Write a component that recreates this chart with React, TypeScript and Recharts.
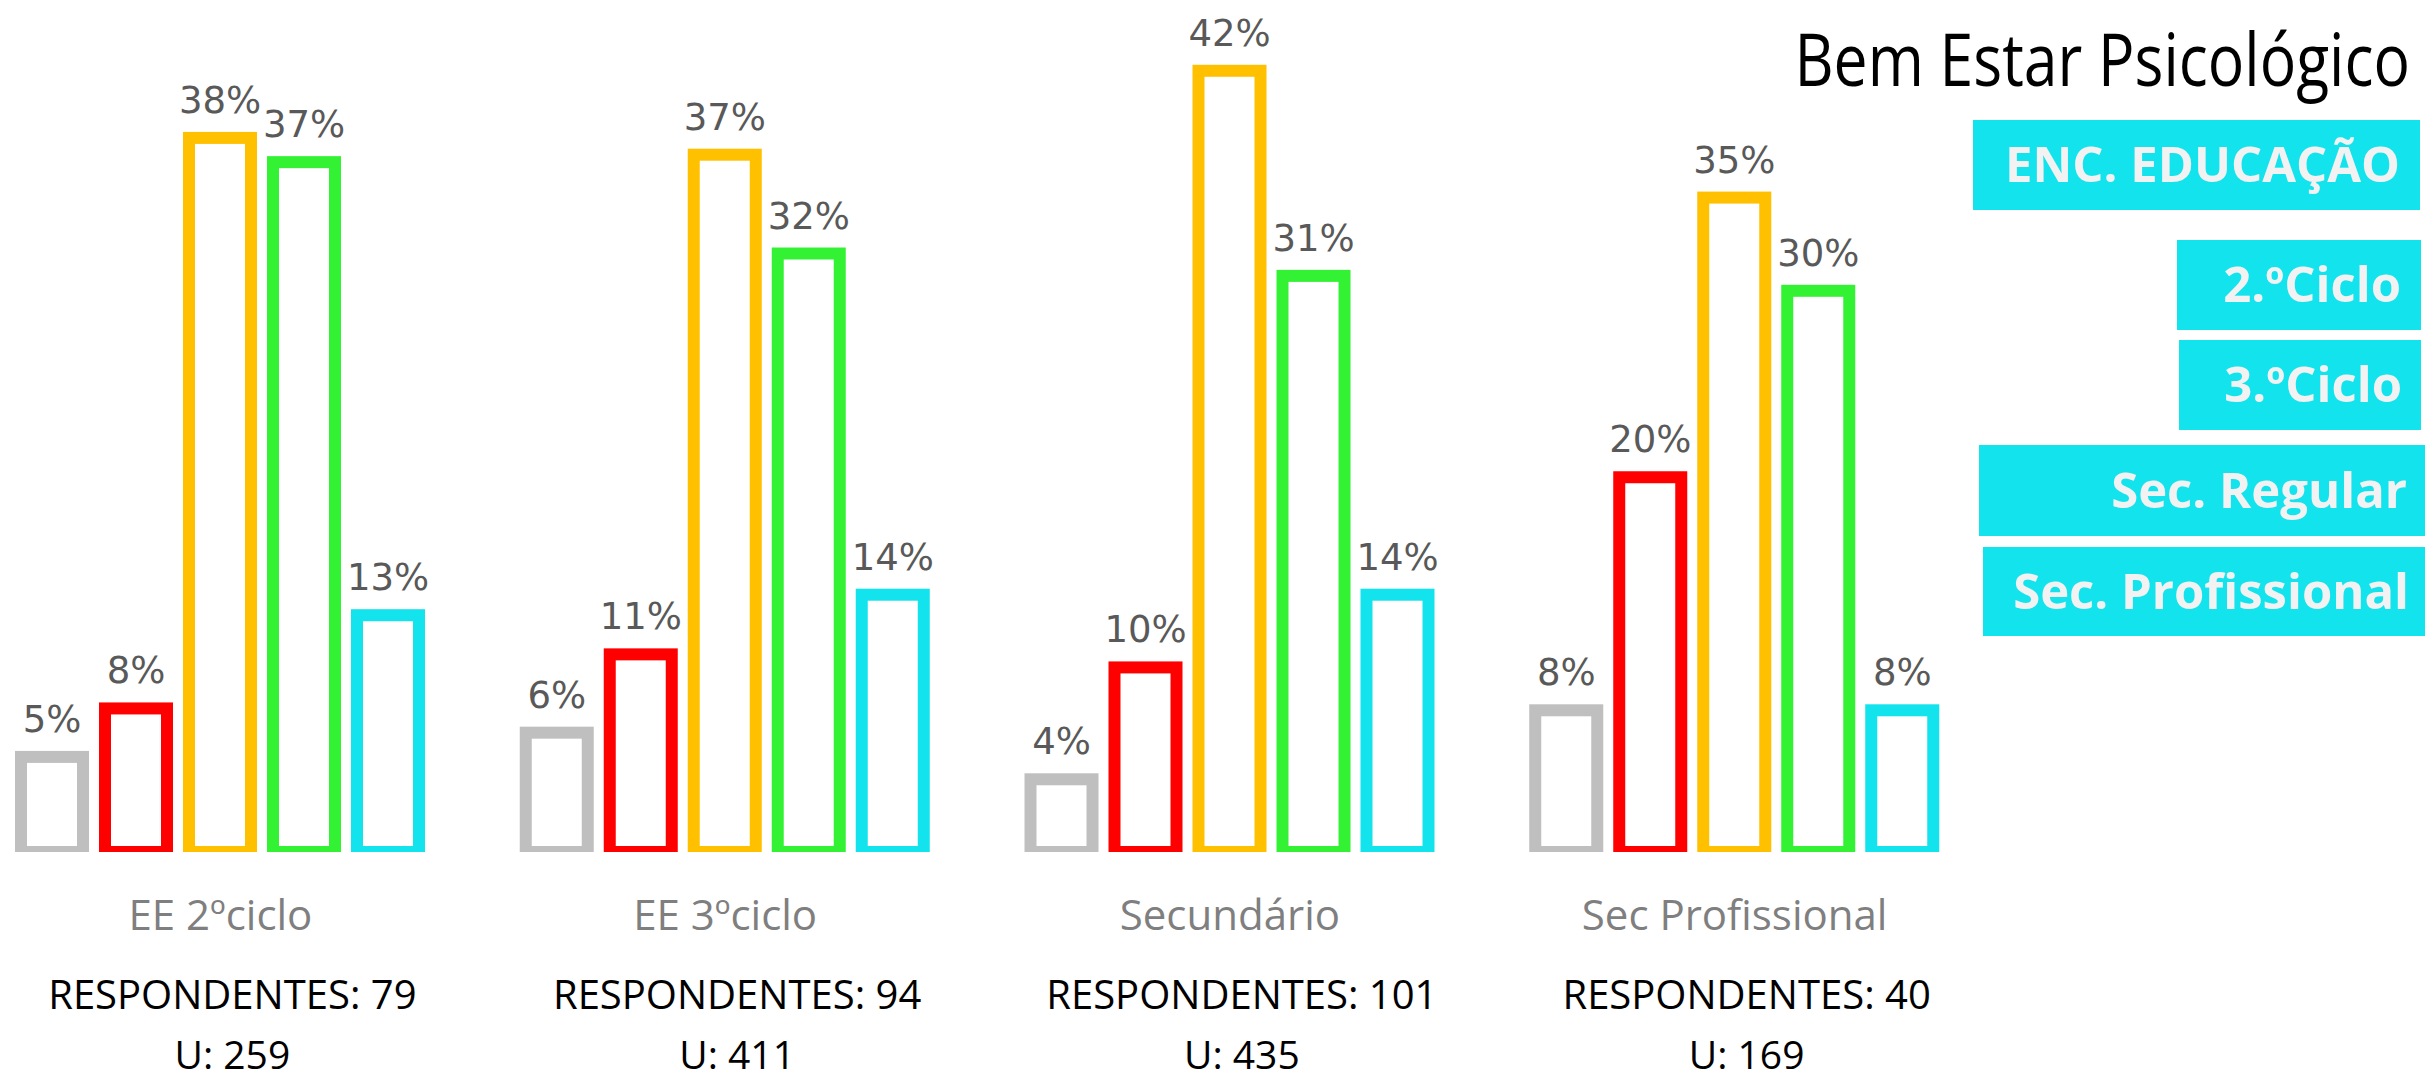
import React from 'react'
import { BarChart, Bar, XAxis, YAxis, LabelList } from 'recharts'

const categories = ['EE 2ºciclo', 'EE 3ºciclo', 'Secundário', 'Sec Profissional']
const respondents = [79, 94, 101, 40]
const universe = [259, 411, 435, 169]

// one array per answer level (percentages)
const greyValues = [5.1, 6.4, 3.9, 7.6]
const redValues = [7.7, 10.6, 9.9, 20.1]
const yellowValues = [38.3, 37.4, 41.9, 35.1]
const greenValues = [37.0, 32.1, 30.9, 30.1]
const cyanValues = [12.7, 13.8, 13.8, 7.6]

const title = 'Bem Estar Psicológico'
const panelLabels = ['ENC. EDUCAÇÃO', '2.ºCiclo', '3.ºCiclo', 'Sec. Regular', 'Sec. Profissional']

const series = [
    { key: 'grey', values: greyValues, color: '#BFBFBF' },
    { key: 'red', values: redValues, color: '#FF0000' },
    { key: 'yellow', values: yellowValues, color: '#FFC000' },
    { key: 'green', values: greenValues, color: '#33F233' },
    { key: 'cyan', values: cyanValues, color: '#12E3EC' },
]

const rows = categories.map((category, i) => {
    const row: Record<string, any> = { category }
    series.forEach((s) => {
        row[s.key] = s.values[i]
    })
    return row
})

// layout of the cyan boxes on the right (x, y, w, h, text right edge)
const panelBoxes = [
    { x: 1973, y: 120, w: 447, h: 90, tx: 2400 },
    { x: 2177, y: 240, w: 244, h: 90, tx: 2401 },
    { x: 2179, y: 340, w: 242, h: 90, tx: 2402 },
    { x: 1979, y: 445, w: 446, h: 91, tx: 2407 },
    { x: 1983, y: 547, w: 442, h: 89, tx: 2409 },
]

const STROKE = 12

function OutlineBar(props: any) {
    const { x, y, width, height, color } = props
    if (height == null || width == null) return null
    const half = STROKE / 2
    return (
        <g>
            <rect x={x - half} y={y - half} width={width + STROKE} height={height + half} fill={color} />
            <rect x={x + half} y={y + half} width={width - STROKE} height={Math.max(height - STROKE, 0)} fill="#ffffff" />
        </g>
    )
}

function CategoryTick(props: any) {
    const { x, y, payload } = props
    const i = categories.indexOf(payload.value)
    return (
        <g>
            <text x={x} y={y + 78} textAnchor="middle" fill="#7F7F7F" fontSize={42} fontFamily="'Open Sans'">
                {payload.value}
            </text>
            <text x={x + 12} y={y + 157} textAnchor="middle" fill="#000" fontSize={40} fontFamily="'Open Sans'">
                {`RESPONDENTES: ${respondents[i]}`}
            </text>
            <text x={x + 12} y={y + 217} textAnchor="middle" fill="#000" fontSize={39} fontFamily="'Open Sans'">
                {`U: ${universe[i]}`}
            </text>
        </g>
    )
}

export default function App() {
    return (
        <div style={{ position: 'absolute', left: 0, top: 0, width: 2425, height: 1081, overflow: 'hidden', background: '#fff' }}>
            <BarChart
                width={2019}
                height={1081}
                data={rows}
                margin={{ top: 13, right: 0, bottom: 0, left: 0 }}
                barSize={62}
                barGap={22}
                style={{ position: 'absolute', left: -32, top: 0 }}
            >
                <XAxis
                    dataKey="category"
                    height={229}
                    axisLine={false}
                    tickLine={false}
                    tickSize={0}
                    tickMargin={0}
                    interval={0}
                    tick={<CategoryTick />}
                />
                <YAxis hide domain={[0, 45]} />
                {series.map((s) => (
                    <Bar
                        key={s.key}
                        dataKey={s.key}
                        isAnimationActive={false}
                        shape={(p: any) => <OutlineBar {...p} color={s.color} />}
                    >
                        <LabelList
                            dataKey={s.key}
                            position="top"
                            offset={25}
                            formatter={(v: any) => `${Math.round(Number(v))}%`}
                            fill="#595959"
                            fontSize={37}
                            fontFamily="'DejaVu Sans'"
                        />
                    </Bar>
                ))}
            </BarChart>
            <svg width={2425} height={1081} style={{ position: 'absolute', left: 0, top: 0, pointerEvents: 'none' }}>
                <text
                    transform="translate(2410 86) scale(0.82 1)"
                    x={0}
                    y={0}
                    textAnchor="end"
                    fontSize={74}
                    fontFamily="'Open Sans'"
                    fill="#000"
                >
                    {title}
                </text>
                {panelLabels.map((label, i) => {
                    const b = panelBoxes[i]
                    return (
                        <g key={label}>
                            <rect x={b.x} y={b.y} width={b.w} height={b.h} fill="#12E3EC" />
                            <text
                                x={b.tx}
                                y={b.y + b.h / 2 + 17}
                                textAnchor="end"
                                fontSize={49}
                                fontWeight={700}
                                fontFamily="'Open Sans'"
                                fill="#F2F2F2"
                            >
                                {label}
                            </text>
                        </g>
                    )
                })}
            </svg>
        </div>
    )
}
